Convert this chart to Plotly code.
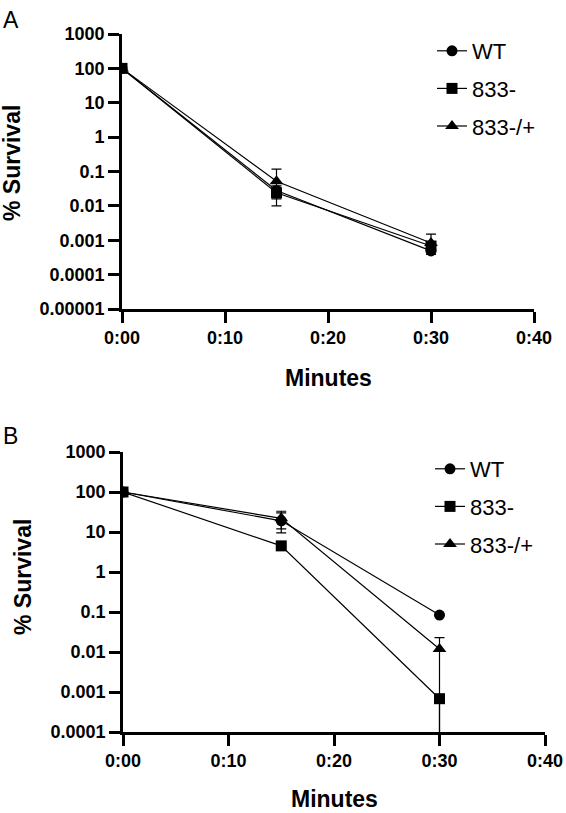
import plotly.graph_objects as go

minutes = [0, 15, 30]
series = ["WT", "833-", "833-/+"]
symbols = ["circle", "square", "triangle-up"]

# Panel A
a_wt = [100, 0.028, 0.00049]
a_wt_up = [0, 0.01, 0.0001]
a_wt_dn = [0, 0.008, 0.0001]
a_ko = [100, 0.024, 0.00068]
a_ko_up = [0, 0.006, 0.0002]
a_ko_dn = [0, 0.014, 0.0002]
a_cp = [100, 0.052, 0.00083]
a_cp_up = [0, 0.065, 0.00067]
a_cp_dn = [0, 0.036, 0.0003]

# Panel B
b_wt = [100, 19, 0.084]
b_wt_up = [0, 14, 0]
b_wt_dn = [0, 9.5, 0]
b_ko = [100, 4.5, 0.00068]
b_ko_up = [0, 0, 0]
b_ko_dn = [0, 0, 0.001]
b_cp = [100, 22, 0.0119]
b_cp_up = [0, 8, 0.011]
b_cp_dn = [0, 10, 0.0119]

x_ticks = [0, 10, 20, 30, 40]
x_ticklabels = ["0:00", "0:10", "0:20", "0:30", "0:40"]
ya_ticks = [1e-5, 1e-4, 1e-3, 1e-2, 1e-1, 1, 10, 100, 1000]
ya_labels = ["0.00001", "0.0001", "0.001", "0.01", "0.1", "1", "10", "100", "1000"]
yb_ticks = [1e-4, 1e-3, 1e-2, 1e-1, 1, 10, 100, 1000]
yb_labels = ["0.0001", "0.001", "0.01", "0.1", "1", "10", "100", "1000"]

FONT = "Liberation Sans, Arial, sans-serif"
W, H = 566, 813

fig = go.Figure()

panelA = [(a_wt, a_wt_up, a_wt_dn), (a_ko, a_ko_up, a_ko_dn), (a_cp, a_cp_up, a_cp_dn)]
panelB = [(b_wt, b_wt_up, b_wt_dn), (b_ko, b_ko_up, b_ko_dn), (b_cp, b_cp_up, b_cp_dn)]

order = [2, 0, 1]
for panel, xa, ya, leg in [(panelA, "x", "y", "legend"), (panelB, "x2", "y2", "legend2")]:
    for i in order:
        vals, up, dn = panel[i]
        fig.add_trace(go.Scatter(
            x=minutes, y=vals, xaxis=xa, yaxis=ya,
            mode="lines+markers", name=series[i],
            legend=leg, legendgroup=series[i] + leg, legendrank=i + 1,
            line=dict(color="black", width=1.2),
            marker=dict(symbol=symbols[i], size=11 if i != 2 else 12, color="black"),
            error_y=dict(type="data", symmetric=False, array=up, arrayminus=dn,
                         color="black", thickness=1.2, width=5),
            cliponaxis=True,
        ))

def px_x(p):
    return p / W

def px_y(p):
    return 1 - p / H

axis_common = dict(showline=True, linecolor="black", linewidth=2.6, ticks="outside",
                   ticklen=11, tickwidth=2.6, tickcolor="black", showgrid=False,
                   zeroline=False, automargin=False,
                   tickfont=dict(family=FONT, size=18, color="black", weight="bold"))

legend_common = dict(xanchor="left", yanchor="top",
                     font=dict(family=FONT, size=22, color="black"),
                     tracegroupgap=6, itemwidth=30, bgcolor="rgba(0,0,0,0)",
                     traceorder="grouped")

fig.update_layout(
    width=W, height=H, margin=dict(l=0, r=0, t=0, b=0, autoexpand=False),
    paper_bgcolor="white", plot_bgcolor="white",
    xaxis=dict(domain=[px_x(122), px_x(534)], anchor="y", range=[0, 40],
               tickvals=x_ticks, ticktext=x_ticklabels, **axis_common),
    yaxis=dict(domain=[px_y(309), px_y(34)], anchor="x", type="log", range=[-5, 3],
               tickvals=ya_ticks, ticktext=ya_labels, **axis_common),
    xaxis2=dict(domain=[px_x(123), px_x(545)], anchor="y2", range=[0, 40],
                tickvals=x_ticks, ticktext=x_ticklabels, **axis_common),
    yaxis2=dict(domain=[px_y(732), px_y(452)], anchor="x2", type="log", range=[-4, 3],
                tickvals=yb_ticks, ticktext=yb_labels, **axis_common),
    legend=dict(x=px_x(432), y=px_y(30), **legend_common),
    legend2=dict(x=px_x(430), y=px_y(448), **legend_common),
    showlegend=True,
)

ann = []
ann.append(dict(text="A", x=px_x(1), y=px_y(20), xref="paper", yref="paper",
                xanchor="left", yanchor="middle", showarrow=False,
                font=dict(family=FONT, size=23, color="black")))
ann.append(dict(text="B", x=px_x(1), y=px_y(436), xref="paper", yref="paper",
                xanchor="left", yanchor="middle", showarrow=False,
                font=dict(family=FONT, size=23, color="black")))
ann.append(dict(text="% Survival", x=px_x(12), y=px_y(163), xref="paper", yref="paper",
                xanchor="center", yanchor="middle", showarrow=False, textangle=-90,
                font=dict(family=FONT, size=23, color="black", weight="bold")))
ann.append(dict(text="% Survival", x=px_x(23), y=px_y(577), xref="paper", yref="paper",
                xanchor="center", yanchor="middle", showarrow=False, textangle=-90,
                font=dict(family=FONT, size=23, color="black", weight="bold")))
ann.append(dict(text="Minutes", x=px_x(328), y=px_y(378), xref="paper", yref="paper",
                xanchor="center", yanchor="middle", showarrow=False,
                font=dict(family=FONT, size=23, color="black", weight="bold")))
ann.append(dict(text="Minutes", x=px_x(334), y=px_y(799), xref="paper", yref="paper",
                xanchor="center", yanchor="middle", showarrow=False,
                font=dict(family=FONT, size=23, color="black", weight="bold")))
fig.update_layout(annotations=ann)

fig.write_html("out.html", config={"displayModeBar": False},
               post_script="document.body.style.margin='0px';document.body.style.overflow='hidden';")
